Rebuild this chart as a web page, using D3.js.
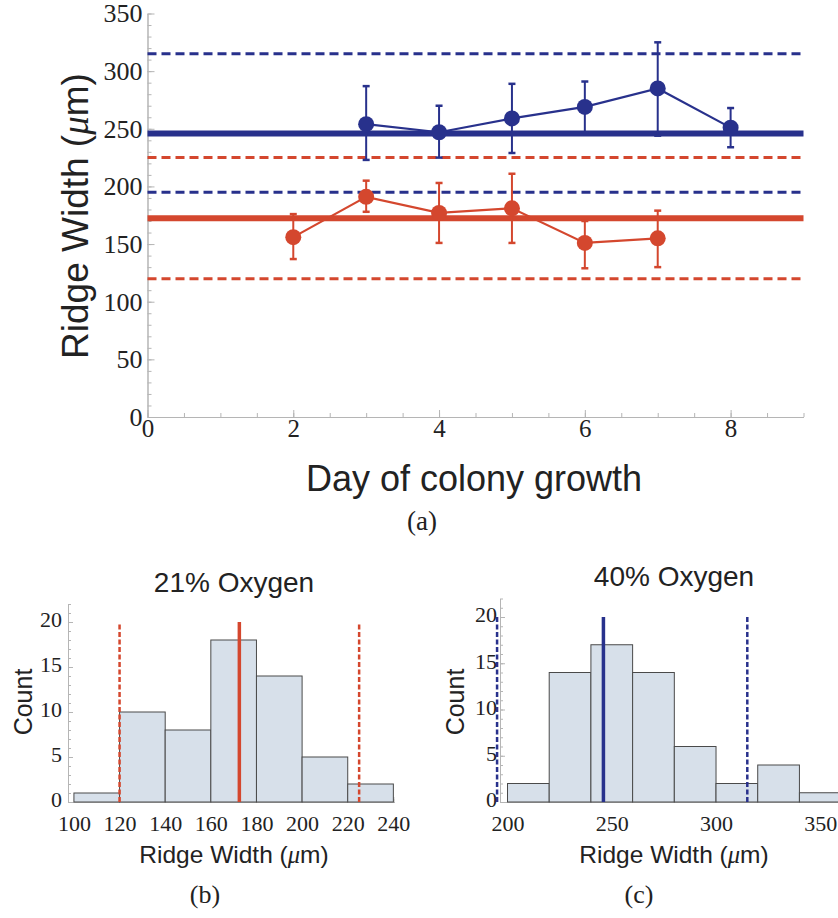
<!DOCTYPE html>
<html>
<head>
<meta charset="utf-8">
<script src="https://cdn.jsdelivr.net/npm/d3@7"></script>
<style>
  body { margin: 0; background: #fff; }
  svg { display: block; }
  .domain, .tick line { stroke: #b5b5b5; }
</style>
</head>
<body>
<div id="fig"></div>
<script>
// ---- data ----
// (a) ridge width per day, 40% oxygen (blue)
var days40 = [3, 4, 5, 6, 7, 8];
var width40 = [254, 247, 259, 269, 285, 251];
var hi40 = [287, 270, 289, 291, 325, 268];
var lo40 = [223, 225, 229, 247, 244, 234];
// (a) ridge width per day, 21% oxygen (red)
var days21 = [2, 3, 4, 5, 6, 7];
var width21 = [156, 191, 177, 181, 151, 155];
var hi21 = [176, 205, 203, 211, 170, 179];
var lo21 = [137, 178, 151, 151, 129, 130];
// overall mean and range lines
var mean40 = 246, range40 = [195, 315];
var mean21 = 172.5, range21 = [120, 225];

// (b) histogram 21% oxygen
var edges21 = [100, 120, 140, 160, 180, 200, 220, 240];
var counts21 = [1, 10, 8, 18, 14, 5, 2];
// (c) histogram 40% oxygen
var edges40 = [200, 220, 240, 260, 280, 300, 320, 340, 360];
var counts40 = [2, 14, 17, 14, 6, 2, 4, 1];

// tick values
var dayTicks = [0, 2, 4, 6, 8];
var widthTicks = [0, 50, 100, 150, 200, 250, 300, 350];
var countTicks = [0, 5, 10, 15, 20];
var hist21Ticks = [100, 120, 140, 160, 180, 200, 220, 240];
var hist40Ticks = [200, 250, 300, 350];

var red = "#d4472e";
var blue = "#28318c";
var sans = "'Liberation Sans', Arial, sans-serif";
var serif = "'Liberation Serif', 'DejaVu Serif', serif";

var svg = d3.select("#fig").append("svg")
  .attr("width", 838)
  .attr("height", 918);

function styleTicks(sel, size) {
  sel.selectAll("text")
    .attr("font-family", serif)
    .attr("font-size", size)
    .attr("fill", "#222");
}

// ---------- panel (a) ----------
var x = d3.scaleLinear().domain([0, 9]).range([147.5, 803.5]);
var y = d3.scaleLinear().domain([0, 350]).range([417, 13.5]);

// minor ticks first
svg.append("g")
  .attr("transform", "translate(0," + y(0) + ")")
  .call(d3.axisBottom(x).tickValues(d3.range(0, 9.01, 0.5)).tickSize(-4).tickSizeOuter(0).tickFormat(""));
svg.append("g")
  .attr("transform", "translate(" + x(0) + ",0)")
  .call(d3.axisLeft(y).tickValues(d3.range(0, 351, 10)).tickSize(-4).tickSizeOuter(0).tickFormat(""));

var xAxis = svg.append("g")
  .attr("transform", "translate(0," + y(0) + ")")
  .call(d3.axisBottom(x).tickValues(dayTicks).tickSize(-7).tickSizeOuter(0).tickPadding(2));
styleTicks(xAxis, "25px");

var yAxis = svg.append("g")
  .attr("transform", "translate(" + x(0) + ",0)")
  .call(d3.axisLeft(y).tickValues(widthTicks).tickSize(-7).tickSizeOuter(0).tickPadding(5));
styleTicks(yAxis, "26px");

var x0 = 0, x1 = 9;
function hline(v, color, w, dash) {
  svg.append("line")
    .attr("x1", x(x0)).attr("x2", x(x1))
    .attr("y1", y(v)).attr("y2", y(v))
    .attr("stroke", color)
    .attr("stroke-width", w)
    .attr("stroke-dasharray", dash);
}
hline(range40[1], blue, 3, "9,5");
hline(range21[1], red, 3, "9,5");
hline(range40[0], blue, 3, "9,5");
hline(range21[0], red, 3, "9,5");
hline(mean40, blue, 6, null);
hline(mean21, red, 6, null);

function series(days, vals, hi, lo, color) {
  var pts = days.map(function(d, i) { return { day: d, v: vals[i], hi: hi[i], lo: lo[i] }; });
  var g = svg.append("g");
  g.selectAll("line.err")
    .data(pts).enter().append("line")
    .attr("x1", d => x(d.day)).attr("x2", d => x(d.day))
    .attr("y1", d => y(d.lo)).attr("y2", d => y(d.hi))
    .attr("stroke", color).attr("stroke-width", 2);
  ["hi", "lo"].forEach(function(k) {
    g.selectAll("line.cap" + k)
      .data(pts).enter().append("line")
      .attr("x1", d => x(d.day) - 3.5).attr("x2", d => x(d.day) + 3.5)
      .attr("y1", d => y(d[k])).attr("y2", d => y(d[k]))
      .attr("stroke", color).attr("stroke-width", 2.5);
  });
  g.append("path")
    .datum(pts)
    .attr("fill", "none")
    .attr("stroke", color)
    .attr("stroke-width", 2.2)
    .attr("d", d3.line().x(d => x(d.day)).y(d => y(d.v)));
  g.selectAll("circle")
    .data(pts).enter().append("circle")
    .attr("cx", d => x(d.day)).attr("cy", d => y(d.v))
    .attr("r", 8)
    .attr("fill", color);
}
series(days40, width40, hi40, lo40, blue);
series(days21, width21, hi21, lo21, red);

// axis titles
var yt = svg.append("text")
  .attr("transform", "translate(88,216) rotate(-90)")
  .attr("text-anchor", "middle")
  .attr("font-family", sans)
  .attr("font-size", "37px")
  .attr("fill", "#222");
yt.append("tspan").text("Ridge Width (");
yt.append("tspan").attr("font-family", serif).attr("font-style", "italic").text("\u03bc");
yt.append("tspan").text("m)");

svg.append("text")
  .attr("x", 474).attr("y", 491)
  .attr("text-anchor", "middle")
  .attr("font-family", sans)
  .attr("font-size", "36px")
  .attr("fill", "#222")
  .text("Day of colony growth");

svg.append("text")
  .attr("x", 422).attr("y", 530)
  .attr("text-anchor", "middle")
  .attr("font-family", serif)
  .attr("font-size", "27px")
  .attr("fill", "#222")
  .text("(a)");

// ---------- histograms (b) and (c) ----------
function histogram(opt) {
  var hx = d3.scaleLinear().domain(opt.xDomain).range(opt.xRange);
  var hy = d3.scaleLinear().domain([0, 22]).range([802, opt.yTop]);
  var g = svg.append("g");

  g.append("g")
    .attr("transform", "translate(0," + hy(0) + ")")
    .call(d3.axisBottom(hx).tickValues(d3.range(opt.xDomain[0] - opt.xDomain[0] % opt.minor + opt.minor, opt.xDomain[1], opt.minor)).tickSize(-3).tickSizeOuter(0).tickFormat(""));
  g.append("g")
    .attr("transform", "translate(" + opt.xRange[0] + ",0)")
    .call(d3.axisLeft(hy).tickValues(d3.range(0, 23, 1)).tickSize(-3).tickSizeOuter(0).tickFormat(""));

  var ax = g.append("g")
    .attr("transform", "translate(0," + hy(0) + ")")
    .call(d3.axisBottom(hx).tickValues(opt.ticks).tickSize(-5).tickSizeOuter(0).tickPadding(13));
  styleTicks(ax, "22px");
  var ay = g.append("g")
    .attr("transform", "translate(" + opt.xRange[0] + ",0)")
    .call(d3.axisLeft(hy).tickValues(countTicks).tickSize(-5).tickSizeOuter(0).tickPadding(opt.yPad));
  styleTicks(ay, "22px");
  ay.selectAll("text").attr("dy", "0.22em");

  var bars = opt.counts.map(function(c, i) { return { a: opt.edges[i], b: opt.edges[i + 1], c: c }; });
  g.selectAll("rect")
    .data(bars).enter().append("rect")
    .attr("x", d => hx(d.a)).attr("width", d => hx(d.b) - hx(d.a))
    .attr("y", d => hy(d.c)).attr("height", d => hy(0) - hy(d.c))
    .attr("fill", "#d7e0ea")
    .attr("stroke", "#4a4a4a")
    .attr("stroke-width", 1);

  [opt.range[0], opt.range[1]].forEach(function(v) {
    g.append("line")
      .attr("x1", hx(v)).attr("x2", hx(v))
      .attr("y1", hy(0)).attr("y2", hy(20))
      .attr("stroke", opt.color).attr("stroke-width", 2.5)
      .attr("stroke-dasharray", "5,2.5");
  });
  g.append("line")
    .attr("x1", hx(opt.mean)).attr("x2", hx(opt.mean))
    .attr("y1", hy(0)).attr("y2", hy(20))
    .attr("stroke", opt.color).attr("stroke-width", 3.5);

  var cx = opt.center;
  g.append("text")
    .attr("x", cx).attr("y", opt.titleY)
    .attr("text-anchor", "middle")
    .attr("font-family", sans).attr("font-size", "28px").attr("fill", "#222")
    .text(opt.title);

  var xl = g.append("text")
    .attr("x", cx).attr("y", 863)
    .attr("text-anchor", "middle")
    .attr("font-family", sans).attr("font-size", "24.5px").attr("fill", "#222");
  xl.append("tspan").text("Ridge Width (");
  xl.append("tspan").attr("font-family", serif).attr("font-style", "italic").text("\u03bc");
  xl.append("tspan").text("m)");

  g.append("text")
    .attr("transform", "translate(" + opt.countX + ",702) rotate(-90)")
    .attr("text-anchor", "middle")
    .attr("font-family", sans).attr("font-size", "25px").attr("fill", "#222")
    .text("Count");

  g.append("text")
    .attr("x", opt.capX).attr("y", 903)
    .attr("text-anchor", "middle")
    .attr("font-family", serif).attr("font-size", "26px").attr("fill", "#222")
    .text(opt.caption);
}

histogram({
  xDomain: [97.4, 240.5], xRange: [68, 394.5], yTop: 604, minor: 5,
  edges: edges21, counts: counts21, ticks: hist21Ticks,
  range: range21, mean: mean21, color: red, yPad: 6,
  title: "21% Oxygen", titleY: 592, center: 234, countX: 32, capX: 205, caption: "(b)"
});
histogram({
  xDomain: [196.4, 362], xRange: [500, 845.3], yTop: 598.5, minor: 10,
  edges: edges40, counts: counts40, ticks: hist40Ticks,
  range: range40, mean: mean40, color: blue, yPad: 3,
  title: "40% Oxygen", titleY: 586, center: 674, countX: 464, capX: 639, caption: "(c)"
});
</script>
</body>
</html>
